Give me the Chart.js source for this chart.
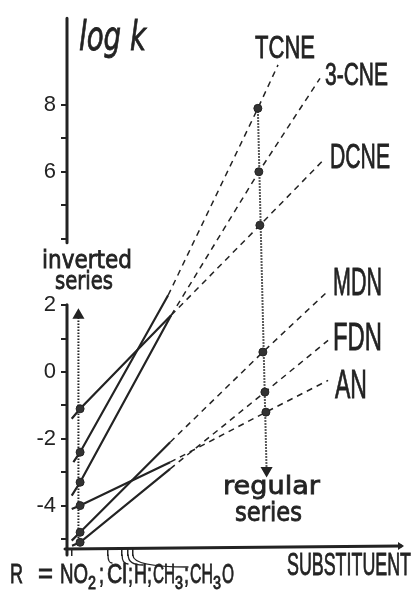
<!DOCTYPE html>
<html>
<head>
<meta charset="utf-8">
<script src="https://cdn.jsdelivr.net/npm/chart.js@4"></script>
<style>
 html, body { margin: 0; padding: 0; background: #fff; }
</style>
</head>
<body>
<canvas id="logk" width="413" height="594"></canvas>
<script>
var ink = '#232323';

// x: position along the substituent axis (arbitrary units 0..100), y: log k
// every line: [left end, inverted point, end of solid part, regular point, right end]
var tcneX = [1.9, 3.9, 30.1, 56.8, 62.8];
var tcneY = [-2.7, -2.4, 2.3, 7.9, 9.2];
var cne3X = [1.4, 3.9, 31.0, 57.1, 75.3];
var cne3Y = [-3.7, -3.3, 1.7, 6.0, 8.8];
var dcneX = [1.4, 3.9, 31.0, 57.4, 76.8];
var dcneY = [-1.4, -1.1, 1.7, 4.4, 6.4];
var mdnX = [1.4, 3.9, 30.7, 58.3, 77.4];
var mdnY = [-5.05, -4.8, -2.1, 0.6, 2.4];
var fdnX = [1.5, 3.9, 30.7, 58.9, 77.7];
var fdnY = [-5.2, -5.1, -2.9, -0.6, 0.95];
var anX = [1.4, 3.9, 30.7, 59.2, 77.7];
var anY = [-4.1, -4.0, -2.7, -1.2, -0.25];

var seriesNames = ['TCNE', '3-CNE', 'DCNE', 'MDN', 'FDN', 'AN'];
var seriesX = [tcneX, cne3X, dcneX, mdnX, fdnX, anX];
var seriesY = [tcneY, cne3Y, dcneY, mdnY, fdnY, anY];

// dotted arrows "inverted series" (up) and "regular series" (down)
var invArrowX = [3.4, 3.4];
var invArrowY = [-5.15, 1.7];
var regArrowX = [56.8, 59.4];
var regArrowY = [7.9, -2.95];

// axis ticks
var yTickValues = [-5, -4, -3, -2, -1, 0, 1, 2, 4, 5, 6, 7, 8];
var yLabeled = [-4, -2, 0, 2, 6, 8];
var substituentPos = [1.5, 12.2, 16.4, 18.2, 19.6];
var substituentNames = ['NO2', 'Cl', 'H', 'CH3', 'CH3O'];

function toPoints(xs, ys) {
 return xs.map(function(x, i) { return { x: x, y: ys[i] }; });
}

var datasets = [];
seriesNames.forEach(function(name, i) {
 datasets.push({
  label: name,
  data: toPoints(seriesX[i], seriesY[i]),
  borderColor: ink,
  borderWidth: 2.2,
  backgroundColor: '#333',
  pointBorderColor: ink,
  pointRadius: [0, 4, 0, 4, 0],
  pointBorderWidth: 1,
  segment: {
   // solid near the real substituents, dashed extrapolation
   borderDash: function(ctx) { return ctx.p0DataIndex >= 2 ? [6, 5] : undefined; },
   borderWidth: function(ctx) { return ctx.p0DataIndex >= 2 ? 1.5 : 2.2; }
  },
  order: 1
 });
});

datasets.push({
 label: 'inverted series',
 data: toPoints(invArrowX, invArrowY),
 borderColor: ink,
 borderWidth: 2,
 borderDash: [1.5, 1.5],
 backgroundColor: ink,
 pointStyle: 'triangle',
 pointRadius: [0, 5],
 rotation: [0, 0],
 order: 2
});
datasets.push({
 label: 'regular series',
 data: toPoints(regArrowX, regArrowY),
 borderColor: ink,
 borderWidth: 2,
 borderDash: [1.5, 1.5],
 backgroundColor: ink,
 pointStyle: 'triangle',
 pointRadius: [0, 5],
 rotation: [0, 180],
 order: 2
});

function fitText(ctx, str, x, y, font, width) {
 ctx.save();
 ctx.font = font;
 var w = ctx.measureText(str).width;
 ctx.translate(x, y);
 ctx.scale(width / w, 1);
 ctx.lineWidth = 0.8;
 ctx.fillText(str, 0, 0);
 ctx.strokeText(str, 0, 0);
 ctx.restore();
}

// hand-lettered annotations: [text, left x, baseline, font, width]
var sans = '"Liberation Sans", sans-serif';
var hand = '"DejaVu Sans", sans-serif';
var notes = [
 ['log k', 79, 50, 'italic 40px ' + hand, 67],
 ['inverted', 42, 268, '24px ' + hand, 90],
 ['series', 55, 289, '24px ' + hand, 58],
 ['regular', 223, 494, '25px ' + hand, 97],
 ['series', 235, 521, '26px ' + hand, 67],
 ['TCNE', 255, 58, '32px ' + sans, 60],
 ['3-CNE', 325, 85, '31px ' + sans, 63],
 ['DCNE', 330, 168, '35px ' + sans, 60],
 ['MDN', 333, 295, '38px ' + sans, 49],
 ['FDN', 333, 350, '38px ' + sans, 49],
 ['AN', 335, 398, '41px ' + sans, 32],
 ['SUBSTITUENT', 287, 575, '31px ' + sans, 124]
];
// bottom line "R = NO2; Cl; H; CH3; CH3O": [text, x, width, subscript]
var rLine = [
 ['R', 10, 13, false], ['=', 38, 15, false],
 ['NO', 60, 28, false], ['2', 88, 8, true], [';', 99, 5, false],
 ['Cl', 107, 20, false], [';', 128, 5, false],
 ['H', 134, 13, false], [';', 147, 5, false],
 ['CH', 153, 22, false], ['3', 175, 8, true], [';', 184, 5, false],
 ['CH', 190, 23, false], ['3', 213, 8, true], ['O', 222, 12, false]
];
// leader lines from the substituent ticks to the names (end points)
var leaderEnds = [null, [112, 563], [128, 564], [143, 565], [188, 567]];

var decorations = {
 id: 'decorations',
 afterDraw: function(chart) {
  var ctx = chart.ctx;
  var xs = chart.scales.x, ys = chart.scales.y;
  var left = chart.chartArea.left, bottom = chart.chartArea.bottom;
  ctx.save();
  ctx.strokeStyle = ink;
  ctx.fillStyle = ink;
  ctx.lineCap = 'round';
  // broken log k axis
  ctx.lineWidth = 3;
  ctx.beginPath();
  ctx.moveTo(left, ys.getPixelForValue(ys.max));
  ctx.lineTo(left, ys.getPixelForValue(3.87));
  ctx.moveTo(left, ys.getPixelForValue(2.02));
  ctx.lineTo(left, bottom + 6);
  ctx.stroke();
  // substituent axis with arrow
  ctx.beginPath();
  ctx.moveTo(left - 2, bottom);
  ctx.lineTo(chart.chartArea.right - 2, bottom - 3);
  ctx.stroke();
  ctx.beginPath();
  ctx.moveTo(chart.chartArea.right + 1, bottom - 3);
  ctx.lineTo(chart.chartArea.right - 5, bottom - 7);
  ctx.lineTo(chart.chartArea.right - 5, bottom + 1);
  ctx.closePath();
  ctx.fill();
  // leader lines
  ctx.lineWidth = 1.3;
  substituentPos.forEach(function(v, i) {
   if (!leaderEnds[i]) return;
   var px = xs.getPixelForValue(v);
   ctx.beginPath();
   ctx.moveTo(px, bottom + 6);
   ctx.quadraticCurveTo(px, leaderEnds[i][1], leaderEnds[i][0], leaderEnds[i][1]);
   ctx.stroke();
  });
  ctx.textBaseline = 'alphabetic';
  ctx.textAlign = 'left';
  notes.forEach(function(n) { fitText(ctx, n[0], n[1], n[2], n[3], n[4]); });
  rLine.forEach(function(p) {
   if (p[3]) fitText(ctx, p[0], p[1], 589, '18px ' + sans, p[2]);
   else fitText(ctx, p[0], p[1], 583, '28px ' + sans, p[2]);
  });
  ctx.restore();
 }
};

new Chart(document.getElementById('logk').getContext('2d'), {
 type: 'line',
 data: { datasets: datasets },
 options: {
  responsive: false,
  animation: false,
  layout: { padding: { left: 0, top: 14, right: 10, bottom: 0 } },
  plugins: { legend: { display: false }, tooltip: { enabled: false } },
  scales: {
   x: {
    type: 'linear',
    min: 0,
    max: 100,
    afterFit: function(s) { s.height = 45; },
    afterBuildTicks: function(s) { s.ticks = substituentPos.map(function(v) { return { value: v }; }); },
    border: { display: false },
    grid: { drawOnChartArea: false, tickLength: 7, color: ink, lineWidth: 1.5 },
    ticks: { autoSkip: false, maxRotation: 0, callback: function() { return ''; } }
   },
   y: {
    type: 'linear',
    min: -5.3,
    max: 10.6,
    afterFit: function(s) { s.width = 67; },
    afterBuildTicks: function(s) { s.ticks = yTickValues.map(function(v) { return { value: v }; }); },
    border: { display: false },
    grid: { drawOnChartArea: false, tickLength: 6, color: ink, lineWidth: 2 },
    ticks: {
     padding: 5,
     color: ink,
     font: { family: 'Liberation Sans', size: 22 },
     callback: function(v) { return yLabeled.indexOf(v) >= 0 ? String(v) : ''; }
    }
   }
  }
 },
 plugins: [decorations]
});
</script>
</body>
</html>
